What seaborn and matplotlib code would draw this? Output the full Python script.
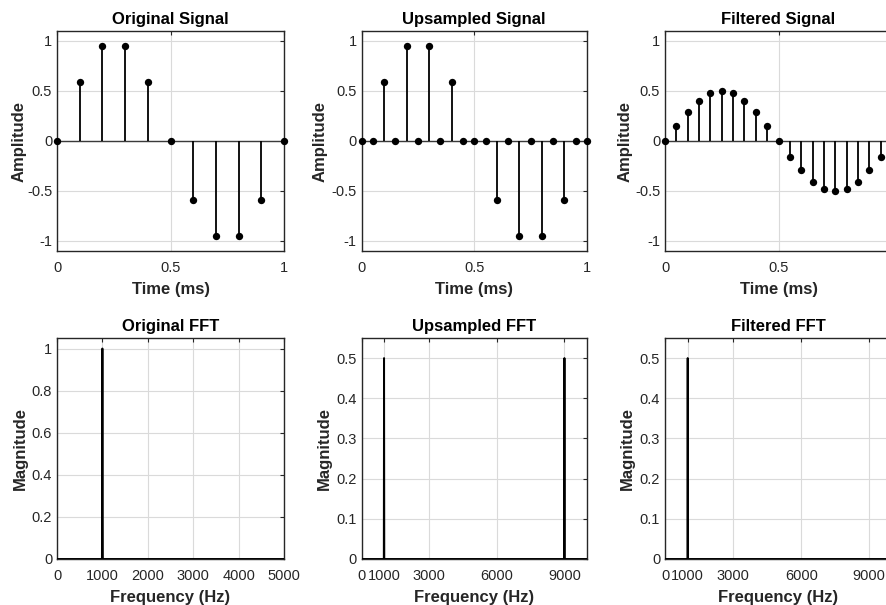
import numpy as np
import pandas as pd
import matplotlib
matplotlib.use("Agg")
import matplotlib.pyplot as plt
import seaborn as sns
from matplotlib.ticker import FuncFormatter

# ---------------- data ----------------
orig_t = [0.0, 0.1, 0.2, 0.3, 0.4, 0.5, 0.6, 0.7, 0.8, 0.9, 1.0]
orig_x = [0.0, 0.588, 0.951, 0.951, 0.588, 0.0, -0.588, -0.951, -0.951, -0.588, 0.0]

up_t = [0.0, 0.05, 0.1, 0.15, 0.2, 0.25, 0.3, 0.35, 0.4, 0.45, 0.5,
        0.55, 0.6, 0.65, 0.7, 0.75, 0.8, 0.85, 0.9, 0.95, 1.0]
up_x = [0.0, 0.0, 0.588, 0.0, 0.951, 0.0, 0.951, 0.0, 0.588, 0.0, 0.0,
        0.0, -0.588, 0.0, -0.951, 0.0, -0.951, 0.0, -0.588, 0.0, 0.0]

filt_t = [0.0, 0.05, 0.1, 0.15, 0.2, 0.25, 0.3, 0.35, 0.4, 0.45,
          0.5, 0.55, 0.6, 0.65, 0.7, 0.75, 0.8, 0.85, 0.9, 0.95]
filt_x = [0.0, 0.155, 0.294, 0.405, 0.476, 0.5, 0.476, 0.405, 0.294, 0.155,
          0.0, -0.155, -0.294, -0.405, -0.476, -0.5, -0.476, -0.405, -0.294, -0.155]

orig_fft_f = [0, 990, 1000, 1010, 5000]
orig_fft_m = [0.0, 0.0, 1.0, 0.0, 0.0]

up_fft_f = [0, 990, 1000, 1010, 8990, 9000, 9010, 10000]
up_fft_m = [0.0, 0.0, 0.5, 0.0, 0.0, 0.5, 0.0, 0.0]

filt_fft_f = [0, 990, 1000, 1010, 10000]
filt_fft_m = [0.0, 0.0, 0.5, 0.0, 0.0]

signal_titles = ["Original Signal", "Upsampled Signal", "Filtered Signal"]
fft_titles = ["Original FFT", "Upsampled FFT", "Filtered FFT"]
time_ticks = [0, 0.5, 1]
filt_time_ticks = [0, 0.5]
amp_ticks = [-1, -0.5, 0, 0.5, 1]
orig_fft_xticks = [0, 1000, 2000, 3000, 4000, 5000]
up_fft_xticks = [0, 1000, 3000, 6000, 9000]
orig_fft_yticks = [0, 0.2, 0.4, 0.6, 0.8, 1]
up_fft_yticks = [0, 0.1, 0.2, 0.3, 0.4, 0.5]

# ---------------- style ----------------
sns.set_style("white")
plt.rcParams['font.family'] = ['Liberation Sans', 'DejaVu Sans']
plt.rcParams['axes.unicode_minus'] = False

W, H = 886, 605
fig = plt.figure(figsize=(W / 100, H / 100), dpi=100)

cols_x = [(57, 284), (361.5, 587), (665, 892)]
rows_y = [(31, 251), (338, 559)]
ylabel_x = [[-0.132, -0.149, -0.145], [-0.128, -0.131, -0.132]]

def make_ax(c, r):
    x0, x1 = cols_x[c]
    y0, y1 = rows_y[r]
    return fig.add_axes([x0 / W, 1 - y1 / H, (x1 - x0) / W, (y1 - y0) / H])

fmt = FuncFormatter(lambda v, p: ("%g" % round(v, 6)))
TXT = "#262626"

def style(ax, title, xlabel, ylabel, xticks, yticks, xlim, ylim, ylx):
    ax.set_xlim(*xlim)
    ax.set_ylim(*ylim)
    ax.set_xticks(xticks)
    ax.set_yticks(yticks)
    ax.xaxis.set_major_formatter(fmt)
    ax.yaxis.set_major_formatter(fmt)
    ax.grid(True, color="#dadada", linewidth=0.8)
    ax.set_axisbelow(True)
    for s in ax.spines.values():
        s.set_color("#262626")
        s.set_linewidth(1.0)
        s.set_visible(True)
    ax.tick_params(direction="in", length=3, width=0.8, colors=TXT,
                   labelsize=10.5, top=True, right=True)
    ax.tick_params(axis="x", pad=7)
    ax.tick_params(axis="y", pad=3.5)
    ax.set_title(title, fontsize=12, fontweight="bold", color="black", pad=5)
    ax.set_xlabel(xlabel, fontsize=12, fontweight="bold", color=TXT, labelpad=5.5)
    ax.set_ylabel(ylabel, fontsize=12, fontweight="bold", color=TXT)
    ax.yaxis.set_label_coords(ylx, 0.5)

# ---------------- top row: stem plots ----------------
signals = [(orig_t, orig_x, time_ticks), (up_t, up_x, time_ticks), (filt_t, filt_x, filt_time_ticks)]
for c, (t, x, xt) in enumerate(signals):
    ax = make_ax(c, 0)
    df = pd.DataFrame({"t": t, "x": x})
    ax.axhline(0, color="#3a3a3a", linewidth=1.0, zorder=2)
    ax.vlines(df["t"], 0, df["x"], color="black", linewidth=1.3, zorder=3)
    sns.scatterplot(data=df, x="t", y="x", ax=ax, color="black", s=28,
                    edgecolor="black", linewidth=0, zorder=4, legend=False,
                    clip_on=False)
    style(ax, signal_titles[c], "Time (ms)", "Amplitude", xt, amp_ticks,
          (0, 1), (-1.1, 1.1), ylabel_x[0][c])

# ---------------- bottom row: FFT magnitude ----------------
ffts = [(orig_fft_f, orig_fft_m, orig_fft_xticks, orig_fft_yticks, (0, 5000), (0, 1.05)),
        (up_fft_f, up_fft_m, up_fft_xticks, up_fft_yticks, (0, 10000), (0, 0.55)),
        (filt_fft_f, filt_fft_m, up_fft_xticks, up_fft_yticks, (0, 10000), (0, 0.55))]
for c, (f, m, xt, yt, xl, yl) in enumerate(ffts):
    ax = make_ax(c, 1)
    df = pd.DataFrame({"f": f, "m": m})
    sns.lineplot(data=df, x="f", y="m", ax=ax, color="black", linewidth=1.4,
                 estimator=None, sort=False, zorder=3)
    style(ax, fft_titles[c], "Frequency (Hz)", "Magnitude", xt, yt, xl, yl, ylabel_x[1][c])

fig.savefig("out.png", dpi=100)
